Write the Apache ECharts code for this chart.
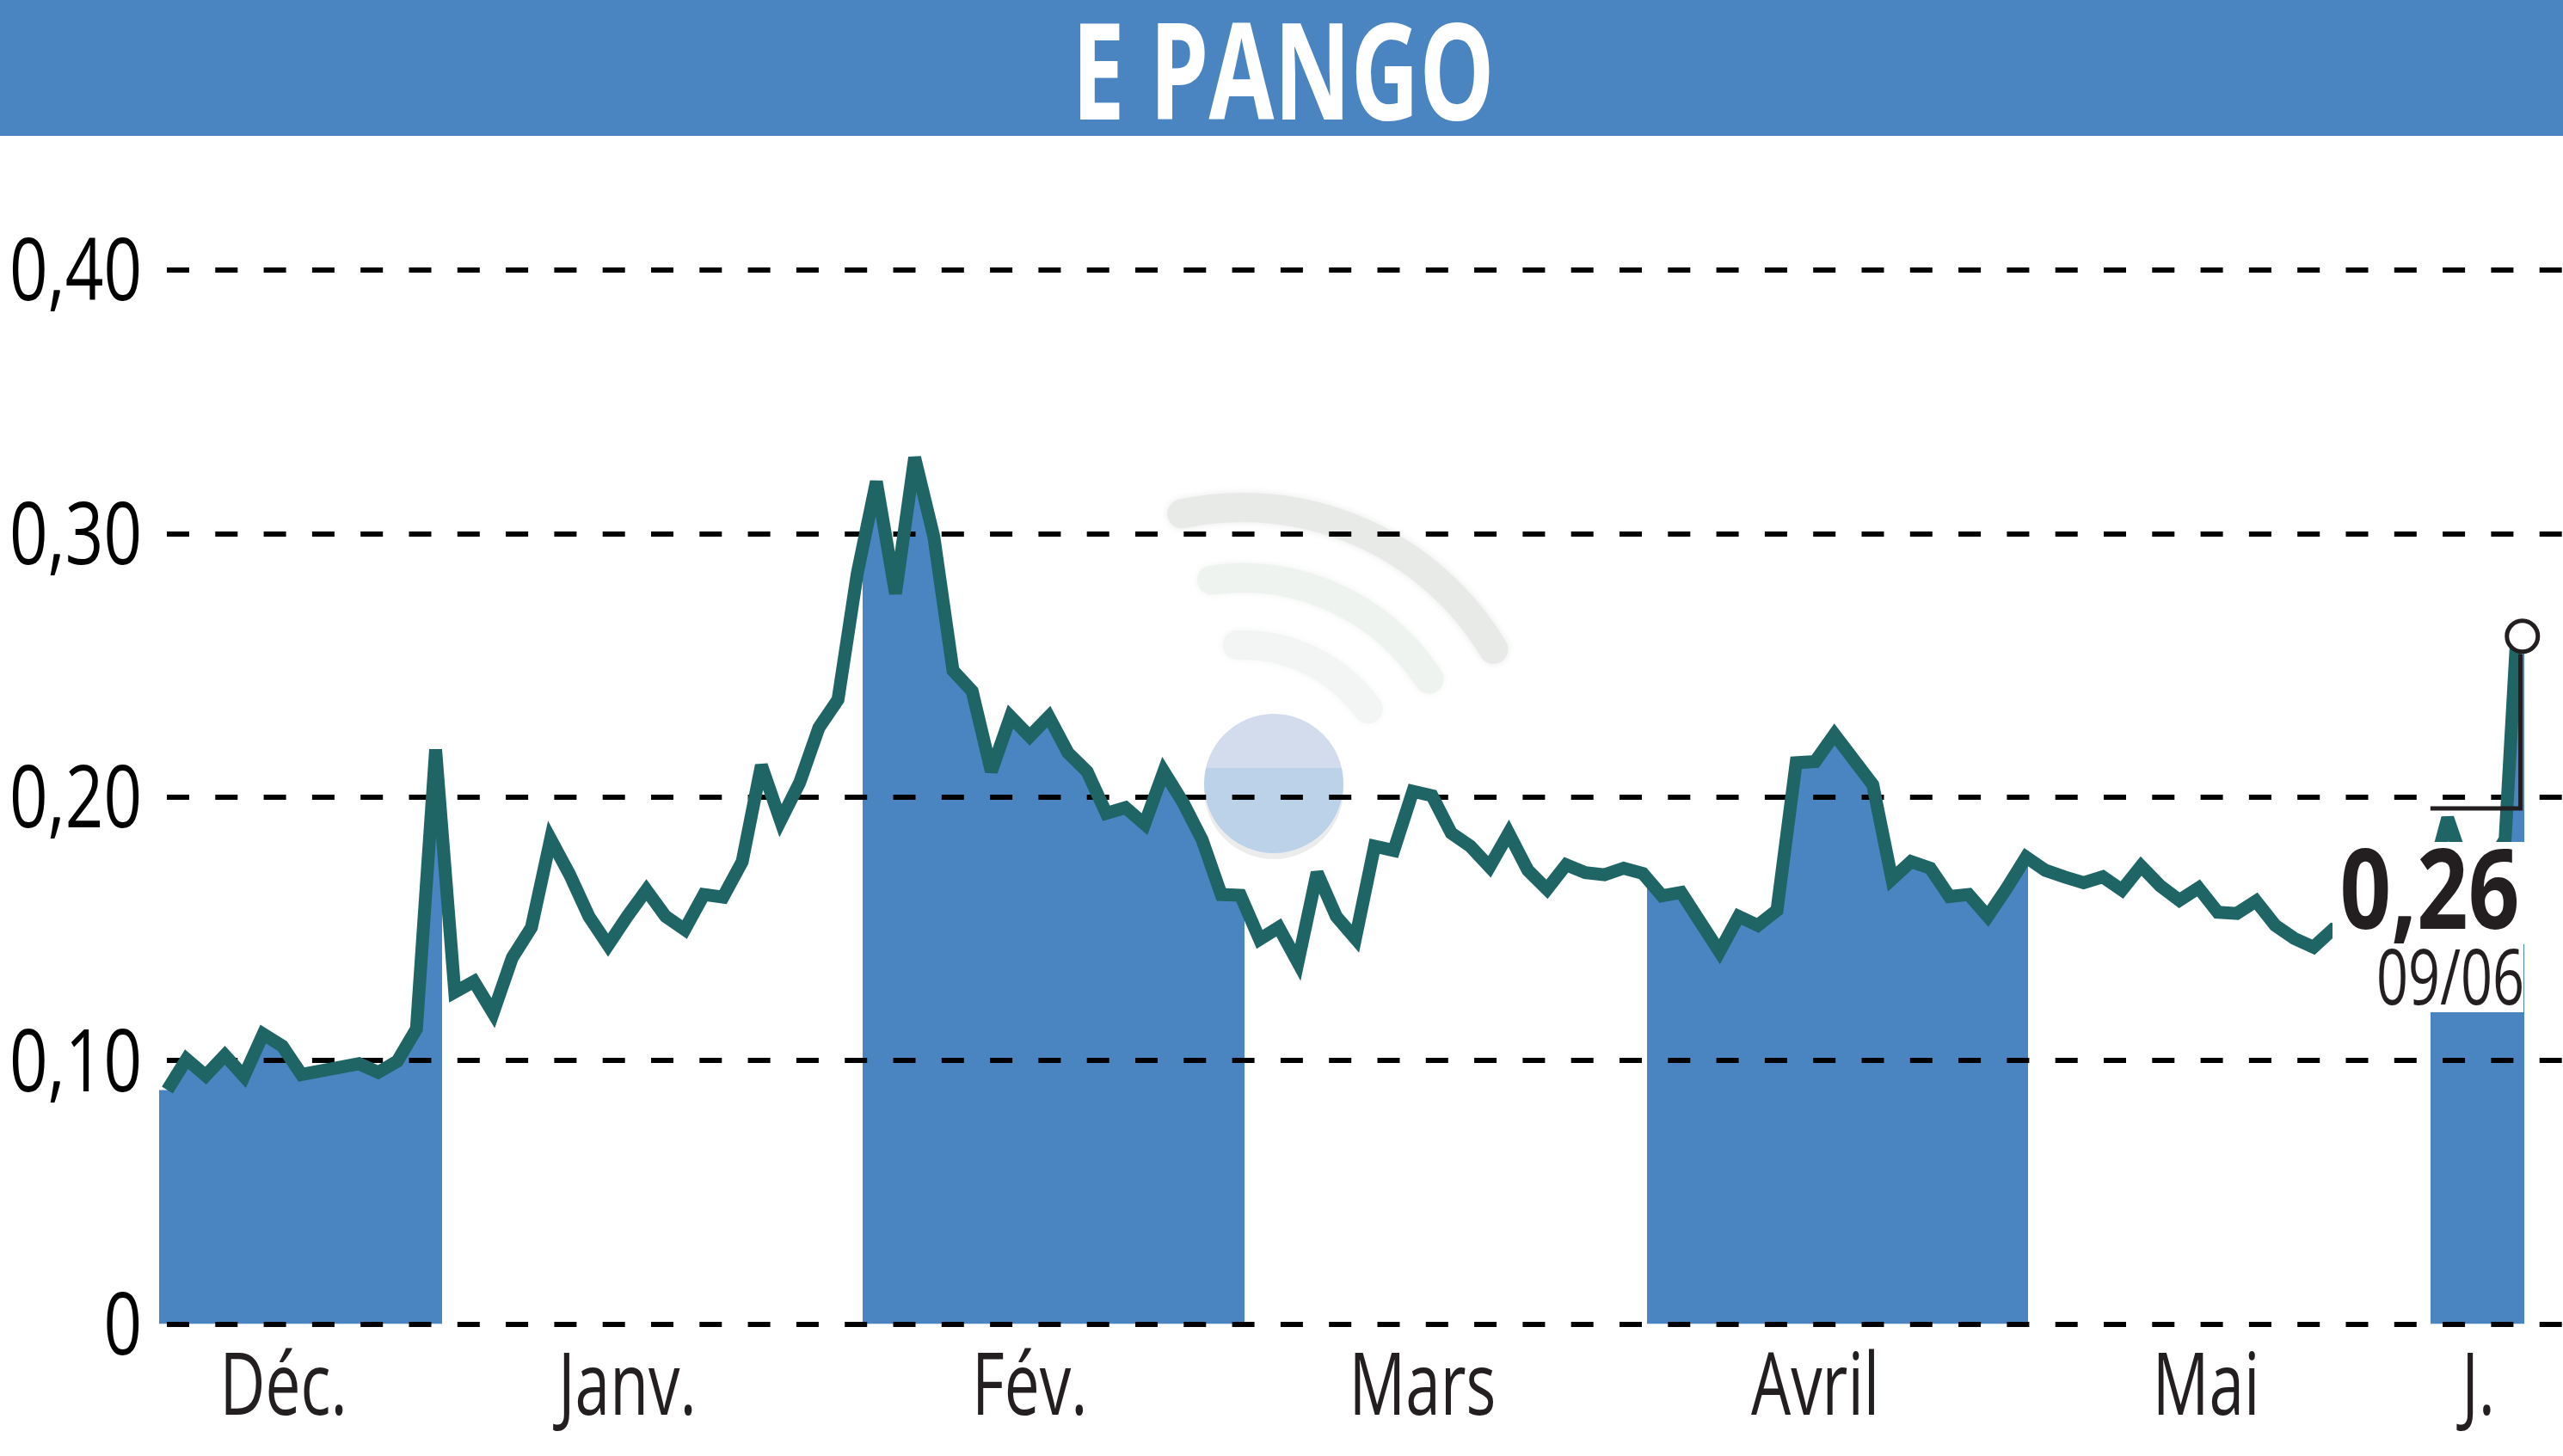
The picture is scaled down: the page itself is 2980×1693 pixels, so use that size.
<!DOCTYPE html>
<html>
<head>
<meta charset="utf-8">
<title>E PANGO</title>
<script src="https://cdn.jsdelivr.net/npm/echarts@6/dist/echarts.min.js"></script>
<style>
  html, body { margin: 0; padding: 0; background: #fff; }
  #chart { width: 2980px; height: 1693px; }
</style>
</head>
<body>
<div id="chart"></div>
<script>
// closing prices, one per trading day, null where the line just runs straight on
var prices = [
  0.0888, 0.1005, 0.0943, 0.102, 0.094, 0.11, 0.1055, 0.0947, null, null,
  0.0988, 0.0955, 0.0997, 0.112, 0.218, 0.126, 0.13, 0.118, 0.139, 0.1505,
  0.184, 0.1705, 0.1547, 0.1438, 0.1547, 0.1647, 0.1547, 0.1497, 0.163, 0.162,
  0.1755, 0.212, 0.191, 0.2055, 0.2263, 0.237, 0.2847, 0.3197, 0.2772, 0.3288,
  0.2988, 0.248, 0.2402, 0.2097, 0.2305, 0.223, 0.2305, 0.2168, 0.2097, 0.1938,
  0.196, 0.1897, 0.2097, 0.198, 0.1838, 0.163, 0.1627, 0.146, 0.1505, 0.1372,
  0.1713, 0.1547, 0.1463, 0.1813, 0.1797, 0.2022, 0.2005, 0.1863, 0.1813, 0.1735,
  0.1863, 0.1722, 0.165, 0.1743, 0.1713, 0.1705, 0.173, 0.171, 0.1625, 0.1638,
  null, 0.1413, 0.1547, 0.1513, 0.157, 0.213, 0.2135, 0.2238, null, 0.2047,
  0.1688, 0.1755, 0.173, 0.1622, 0.163, 0.1547, 0.1655, 0.1772, 0.1722, 0.1697,
  0.1675, 0.1697, 0.1647, 0.1738, 0.1663, 0.1608, 0.1655, 0.1563, 0.1558, 0.1605,
  0.1513, 0.1463, 0.143, 0.1497, 0.148, 0.152, 0.156, 0.16, 0.165, 0.192,
  0.171, 0.172, 0.184, 0.261
];

var monthNames = ['Déc.', 'Janv.', 'Fév.', 'Mars', 'Avril', 'Mai', 'J.'];
var monthLabelPos = [6.06, 24, 45, 65.5, 86, 106.4, 120.6];

var yTicks = [0, 0.1, 0.2, 0.3, 0.4];
var yTickLabels = ['0', '0,10', '0,20', '0,30', '0,40'];

// months painted blue, in trading day units
var bandStart = [-0.43, 36.28, 77.2, 118.1];
var bandEnd = [14.34, 56.2, 97.1, 123.1];

var lastValueText = '0,26';
var lastDateText = '09/06';

// the little L between the last point and the value, and where the ring sits
var calloutX = [118.1, 122.8, 122.8];
var calloutY = [0.1957, 0.1957, 0.2542];
var ringX = 122.9;
// the line stops a little short of the ring in the original
var lineEndX = 122.6;

var xMin = -0.43;
var xMax = 125.02;
var BLUE = '#4a84c1';
var TEAL = '#1f6566';
var INK = '#231f20';
// no condensed face installed, so text is squeezed with scaleX
var FONT = '"Open Sans", "Liberation Sans", sans-serif';

var chart = echarts.init(document.getElementById('chart'));

var lineData = [];
var areaData = [[xMin, prices[0]]]; // fill starts a bit before the first point
for (var i = 0; i < prices.length; i++) {
  if (prices[i] !== null) {
    lineData.push([i === prices.length - 1 ? lineEndX : i, prices[i]]);
    areaData.push([i, prices[i]]);
  }
}

var bandPieces = [];
for (var j = 0; j < bandStart.length; j++) {
  bandPieces.push({ gte: bandStart[j], lte: bandEnd[j], color: BLUE });
}

var calloutData = [];
for (var k = 0; k < calloutX.length; k++) {
  calloutData.push([calloutX[k], calloutY[k]]);
}

function wifiArc(r, startDeg, endDeg, color) {
  return {
    type: 'arc',
    silent: true,
    z: -5,
    shape: { cx: 1445, cy: 930, r: r, startAngle: startDeg * Math.PI / 180, endAngle: endDeg * Math.PI / 180, clockwise: true },
    style: { stroke: color, fill: null, lineWidth: 34, lineCap: 'round', shadowBlur: 10, shadowColor: color }
  };
}

function squeezedText(text, x, y, fontSize, scaleX, align, color, weight) {
  return {
    type: 'text',
    silent: true,
    z: 51,
    x: x,
    y: y,
    scaleX: scaleX,
    style: { text: text, fill: color, fontFamily: FONT, fontWeight: weight, fontSize: fontSize, align: align, verticalAlign: 'middle' }
  };
}

var graphicEls = [
  // header band and name
  { type: 'rect', z: 50, silent: true, shape: { x: 0, y: 0, width: 2980, height: 158 }, style: { fill: BLUE } },
  squeezedText('E PANGO', 1492, 94, 157, 0.70, 'center', '#fff', 'bold'),
  // watermark behind everything
  wifiArc(340, -102, -31, '#e8eae8'),
  wifiArc(258, -98, -33, '#eff3ef'),
  wifiArc(180, -92, -36, '#f2f5f3'),
  { type: 'circle', z: -5, silent: true, shape: { cx: 1481, cy: 918, r: 81 }, style: { fill: '#ececec' } },
  {
    type: 'circle', z: -4, silent: true, shape: { cx: 1481, cy: 911, r: 81 },
    style: {
      fill: new echarts.graphic.LinearGradient(0, 0, 0, 1, [
        { offset: 0, color: '#d3dcec' }, { offset: 0.39, color: '#d3dcec' },
        { offset: 0.39, color: '#bcd2e9' }, { offset: 1, color: '#bcd2e9' }
      ])
    }
  },
  // white boxes behind the last value and date
  { type: 'rect', z: 50, silent: true, shape: { x: 2712, y: 979, width: 226, height: 119 }, style: { fill: '#fff' } },
  { type: 'rect', z: 50, silent: true, shape: { x: 2760, y: 1098, width: 174, height: 79 }, style: { fill: '#fff' } },
  squeezedText(lastValueText, 2825, 1043, 129, 0.81, 'center', INK, 'bold'),
  squeezedText(lastDateText, 2935, 1142, 90, 0.72, 'right', INK, 'normal')
];

var option = {
  animation: false,
  backgroundColor: '#fff',
  grid: { left: 185, right: 0, top: 314, bottom: 153.5, outerBoundsMode: 'none' },
  xAxis: {
    type: 'value',
    min: xMin,
    max: xMax,
    axisLine: { show: false },
    axisTick: { show: false },
    splitLine: { show: false },
    axisLabel: { show: false }
  },
  yAxis: {
    type: 'value',
    min: 0,
    max: 0.4,
    interval: 0.1,
    axisLine: { show: false },
    axisTick: { show: false },
    axisLabel: { show: false },
    splitLine: {
      show: true,
      lineStyle: { color: '#000', width: 6, type: [26, 30.3], dashOffset: 47.3 }
    }
  },
  visualMap: {
    show: false,
    type: 'piecewise',
    seriesIndex: 0,
    dimension: 0,
    pieces: bandPieces,
    outOfRange: { color: 'rgba(0,0,0,0)' }
  },
  series: [
    {
      name: 'fill',
      type: 'line',
      z: -1,
      silent: true,
      data: areaData,
      showSymbol: false,
      symbol: 'none',
      lineStyle: { width: 0 },
      areaStyle: { opacity: 1 }
    },
    {
      name: 'E PANGO',
      type: 'line',
      z: 3,
      data: lineData,
      showSymbol: false,
      symbol: 'none',
      lineStyle: { color: TEAL, width: 15, join: 'miter', miterLimit: 3 },
      markPoint: {
        silent: true,
        symbol: 'circle',
        symbolSize: 36,
        itemStyle: { color: '#fff', borderColor: INK, borderWidth: 5 },
        label: { show: false },
        data: [{ coord: [ringX, prices[prices.length - 1]] }]
      }
    },
    {
      name: 'callout',
      type: 'line',
      z: 4,
      silent: true,
      data: calloutData,
      showSymbol: false,
      symbol: 'none',
      lineStyle: { color: INK, width: 5, join: 'miter' }
    }
  ],
  graphic: { elements: graphicEls }
};

chart.setOption(option);

// tick labels placed through the axes, squeezed like the condensed face of the original
yTicks.forEach(function (val, idx) {
  var pt = chart.convertToPixel({ gridIndex: 0 }, [xMin, val]);
  graphicEls.push(squeezedText(yTickLabels[idx], 165, pt[1] + 7, 100, 0.78, 'right', '#000', 'normal'));
});
monthNames.forEach(function (name, idx) {
  var pt = chart.convertToPixel({ gridIndex: 0 }, [monthLabelPos[idx], 0]);
  graphicEls.push(squeezedText(name, pt[0], 1617, 100, 0.73, 'center', INK, 'normal'));
});
chart.setOption({ graphic: { elements: graphicEls } });
</script>
</body>
</html>
